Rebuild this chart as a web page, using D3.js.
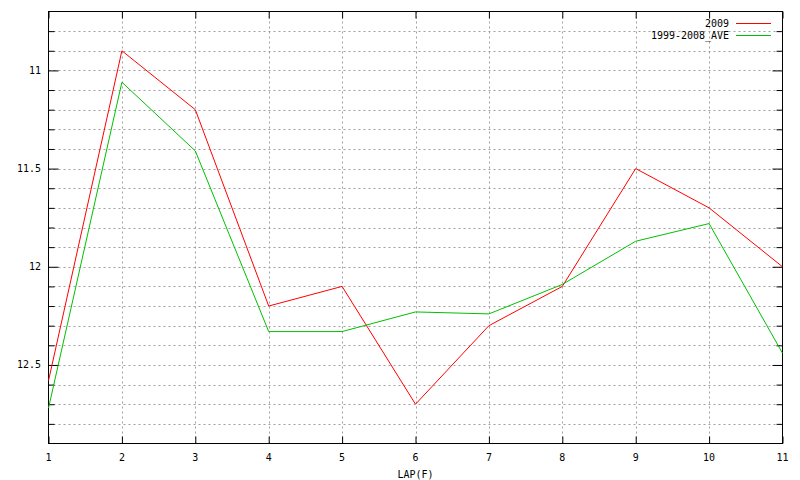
<!DOCTYPE html>
<html>
<head>
<meta charset="utf-8">
<script src="https://cdn.jsdelivr.net/npm/d3@7"></script>
<style>
  html, body { margin: 0; padding: 0; background: #fff; }
  svg { display: block; }
  text { font-family: "DejaVu Sans Mono", "Liberation Mono", monospace; font-size: 11px; fill: #000; }
</style>
</head>
<body>
<svg id="chart" width="800" height="480"></svg>
<script>
const laps = [1, 2, 3, 4, 5, 6, 7, 8, 9, 10, 11];
const series2009 = [12.58, 10.90, 11.20, 12.20, 12.10, 12.70, 12.30, 12.10, 11.50, 11.70, 12.00];
const seriesAve = [12.72, 11.06, 11.41, 12.33, 12.33, 12.23, 12.24, 12.09, 11.87, 11.78, 12.44];
const yMajorTicks = [11, 11.5, 12, 12.5];
const yMinorTicks = [10.8, 10.9, 11.1, 11.2, 11.3, 11.4, 11.6, 11.7, 11.8, 11.9, 12.1, 12.2, 12.3, 12.4, 12.6, 12.7, 12.8];
const seriesNames = ["2009", "1999-2008_AVE"];
const colors = ["#ff0000", "#00c000"];
const xLabel = "LAP(F)";

const svg = d3.select("#chart");
const L = 48.5, R = 782.5, T = 11.5, B = 443.5;
const x = d3.scaleLinear().domain([1, 11]).range([L, R]);
const y = d3.scaleLinear().domain([10.7, 12.9]).range([T, B]);
const CW = 6; // character advance of the narrow bitmap-like font

function fit(sel) {
  sel.each(function () {
    const t = d3.select(this);
    t.attr("textLength", t.text().length * CW).attr("lengthAdjust", "spacingAndGlyphs");
  });
  return sel;
}

const allY = yMajorTicks.concat(yMinorTicks);

// grid
const grid = svg.append("g").attr("stroke", "#a0a0a0").attr("stroke-width", 1).attr("stroke-dasharray", "2,3");
grid.selectAll("line.h").data(allY).enter().append("line")
  .attr("x1", L).attr("x2", R)
  .attr("y1", d => Math.round(y(d)) + 0.5).attr("y2", d => Math.round(y(d)) + 0.5);
grid.selectAll("line.v").data(laps.slice(1, -1)).enter().append("line")
  .attr("y1", T).attr("y2", B)
  .attr("x1", d => Math.round(x(d)) + 0.5).attr("x2", d => Math.round(x(d)) + 0.5);

// axes with inward ticks
const axL = svg.append("g").attr("transform", `translate(${L},0)`)
  .call(d3.axisRight(y).tickValues(yMajorTicks).tickSize(10).tickFormat(""));
const axLm = svg.append("g").attr("transform", `translate(${L},0)`)
  .call(d3.axisRight(y).tickValues(yMinorTicks).tickSize(6).tickFormat(""));
const axR = svg.append("g").attr("transform", `translate(${R},0)`)
  .call(d3.axisLeft(y).tickValues(yMajorTicks).tickSize(10).tickFormat(""));
const axRm = svg.append("g").attr("transform", `translate(${R},0)`)
  .call(d3.axisLeft(y).tickValues(yMinorTicks).tickSize(6).tickFormat(""));
const axB = svg.append("g").attr("transform", `translate(0,${B})`)
  .call(d3.axisTop(x).tickValues(laps).tickSize(7).tickFormat(""));
const axT = svg.append("g").attr("transform", `translate(0,${T})`)
  .call(d3.axisBottom(x).tickValues(laps).tickSize(7).tickFormat(""));
[axL, axLm, axR, axRm, axB, axT].forEach(a => {
  a.select(".domain").remove();
  a.selectAll("line").attr("stroke", "#000");
});

// frame
svg.append("rect").attr("x", L).attr("y", T).attr("width", R - L).attr("height", B - T)
  .attr("fill", "none").attr("stroke", "#000").attr("stroke-width", 1);

// tick labels
fit(svg.append("g").selectAll("text").data(yMajorTicks).enter().append("text")
  .attr("x", 41).attr("y", d => y(d)).attr("text-anchor", "end").attr("dominant-baseline", "central")
  .text(d => d3.format("")(d)));
fit(svg.append("g").selectAll("text").data(laps).enter().append("text")
  .attr("x", d => x(d)).attr("y", 457).attr("text-anchor", "middle").attr("dominant-baseline", "central")
  .text(d => d));
fit(svg.append("text").attr("x", (L + R) / 2).attr("y", 474).attr("text-anchor", "middle")
  .attr("dominant-baseline", "central").text(xLabel));

// lines
const line = d3.line().x((d, i) => x(laps[i])).y(d => y(d));
[series2009, seriesAve].forEach((s, k) => {
  svg.append("path").datum(s).attr("d", line).attr("fill", "none")
    .attr("stroke", colors[k]).attr("stroke-width", 1);
});

// legend
const leg = svg.append("g");
seriesNames.forEach((n, k) => {
  const ly = 23.5 + k * 12;
  fit(leg.append("text").attr("x", 729).attr("y", ly).attr("text-anchor", "end")
    .attr("dominant-baseline", "central").text(n));
  leg.append("line").attr("x1", 736).attr("x2", 771).attr("y1", ly).attr("y2", ly)
    .attr("stroke", colors[k]).attr("stroke-width", 1);
});
</script>
</body>
</html>
